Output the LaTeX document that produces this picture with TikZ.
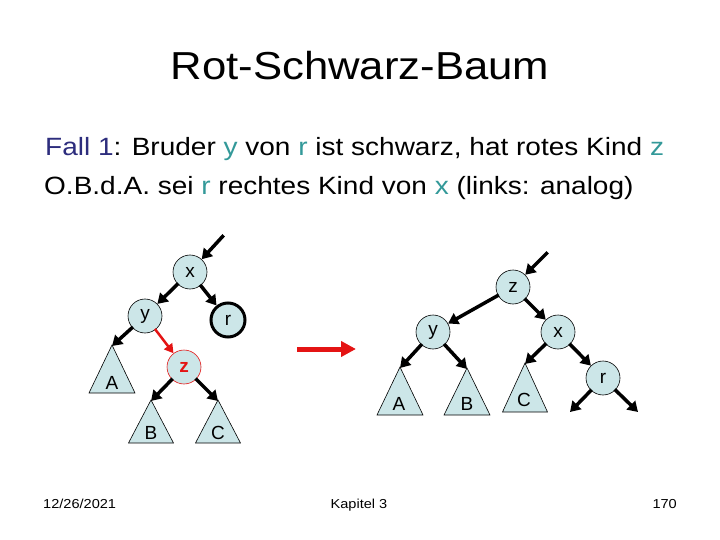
\documentclass[tikz,border=0pt]{standalone}
\usepackage{fontspec}
\setmainfont{Liberation Sans}
\usetikzlibrary{arrows.meta}
\definecolor{teal1}{RGB}{51,153,153}
\definecolor{navy1}{RGB}{45,45,125}
\definecolor{nodefill}{RGB}{204,230,232}
\definecolor{red1}{RGB}{228,20,20}
\newcommand{\wide}[1]{\scalebox{1.12}[1]{#1}}
\newcommand{\tc}[1]{\textcolor{teal1}{#1}}
\tikzset{
  knot/.style={circle,draw=black,line width=0.6pt,fill=nodefill,minimum size=34pt,inner sep=0pt,font=\fontsize{19}{19}\selectfont},
  rknot/.style={knot,line width=3pt,minimum size=34pt},
  zknot/.style={knot,draw=red1,text=red1,font=\fontsize{19}{19}\selectfont\bfseries},
  edge/.style={line width=3.5pt,-{Triangle[length=10pt,width=12pt]},shorten <=-1pt},
  redge/.style={edge,draw=red1,line width=2.5pt,-{Triangle[length=9pt,width=10pt]}},
  subtree/.style={draw=black,line width=0.6pt,fill=nodefill},
  lbl/.style={font=\fontsize{19}{19}\selectfont,inner sep=0pt},
  bigarrow/.style={draw=red1,line width=5pt,-{Triangle[length=15pt,width=15pt]}},
  foot/.style={font=\fontsize{13}{13}\selectfont,inner sep=0pt},
  txt/.style={font=\fontsize{25}{25}\selectfont,inner sep=0pt,anchor=base west}
}
\begin{document}
\begin{tikzpicture}[x=1pt,y=-1pt]
\useasboundingbox (0,0) rectangle (720,540);
% title and text
\node[font=\fontsize{39}{39}\selectfont,inner sep=0pt,anchor=base] (title) at (360,79.5) {\wide{Rot-Schwarz-Baum}};
\node[txt] (line1) at (45,156) {\wide{\textcolor{navy1}{Fall 1}: Bruder \tc{y} von \tc{r} ist schwarz, hat rotes Kind \tc{z}}};
\node[txt] (line2) at (44,195) {\wide{O.B.d.A. sei \tc{r} rechtes Kind von \tc{x} (links: analog)}};
% left tree
\draw[subtree] (112,345) -- (135,393) -- (89,393) -- cycle;
\draw[subtree] (151,400) -- (173.5,443) -- (128.5,443) -- cycle;
\draw[subtree] (218,400) -- (240.5,443) -- (195.5,443) -- cycle;
\coordinate (lA) at (112,346);
\coordinate (lB) at (151,401);
\coordinate (lC) at (218,401);
\node[lbl] (lAt) at (112,383) {A};
\node[lbl] (lBt) at (151,433) {B};
\node[lbl] (lCt) at (218,433) {C};
\node[knot] (lx) at (190,272) {x};
\node[knot] (ly) at (145,316) {y};
\node[rknot] (lr) at (228,320) {r};
\node[zknot] (lz) at (184,367) {z};
\coordinate (lin) at (223,236);
\draw[edge] (lin) -- (lx);
\draw[edge] (lx) -- (ly);
\draw[edge] (lx) -- (lr);
\draw[edge] (ly) -- (lA);
\draw[redge] (ly) -- (lz);
\draw[edge] (lz) -- (lB);
\draw[edge] (lz) -- (lC);
% arrow
\coordinate (as) at (297,349);
\coordinate (ae) at (356,349);
\draw[bigarrow] (as) -- (ae);
% right tree
\draw[subtree] (400,367) -- (423,415) -- (377,415) -- cycle;
\draw[subtree] (467,368) -- (490,415) -- (444,415) -- cycle;
\draw[subtree] (525,363) -- (547.5,412) -- (502.5,412) -- cycle;
\coordinate (rA) at (400,368);
\coordinate (rB) at (467,369);
\coordinate (rC) at (525,364);
\node[lbl] (rAt) at (399,404) {A};
\node[lbl] (rBt) at (467,404) {B};
\node[lbl] (rCt) at (524,400) {C};
\node[knot] (rz) at (513,287) {z};
\node[knot] (ry) at (433,332) {y};
\node[knot] (rx) at (558,332) {x};
\node[knot] (rr) at (603,378) {r};
\coordinate (rin) at (547,253);
\coordinate (rr1) at (570,412);
\coordinate (rr2) at (638,412);
\draw[edge] (rin) -- (rz);
\draw[edge] (rz) -- (ry);
\draw[edge] (rz) -- (rx);
\draw[edge] (ry) -- (rA);
\draw[edge] (ry) -- (rB);
\draw[edge] (rx) -- (rC);
\draw[edge] (rx) -- (rr);
\draw[edge] (rr) -- (rr1);
\draw[edge] (rr) -- (rr2);
% footer
\node[foot,anchor=base west] (date) at (43,508) {\wide{12/26/2021}};
\node[foot,anchor=base] (chap) at (359,508) {\wide{Kapitel 3}};
\node[foot,anchor=base east] (page) at (677,508) {\wide{170}};
\end{tikzpicture}
\end{document}
